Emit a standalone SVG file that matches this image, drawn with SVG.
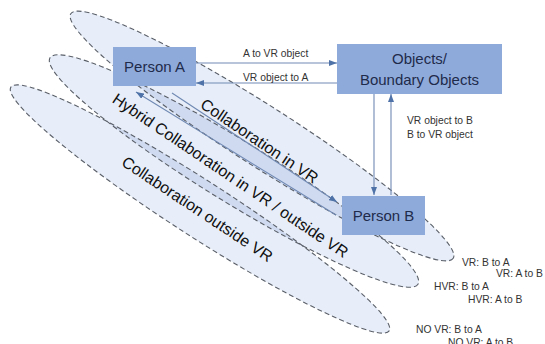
<svg xmlns="http://www.w3.org/2000/svg" width="545" height="344" viewBox="0 0 545 344">
<style>
.ell{fill:#e7eef9;stroke:none}
.ov{fill:#cfdaf0;stroke:none}
.out{fill:none;stroke:#5a5f68;stroke-width:1.1;stroke-dasharray:5 3}
.box{fill:#8eaadb}
.bt{font-family:"Liberation Sans",Arial,sans-serif;font-size:15px;fill:#1f2b4a;text-anchor:middle}
.lbl{font-family:"Liberation Sans",Arial,sans-serif;font-size:10.3px;fill:#333}
.rot{font-family:"Liberation Sans",Arial,sans-serif;font-size:16px;fill:#111;text-anchor:middle}
.con{stroke:#7089b3;stroke-width:1.1;fill:none}
</style>
<defs>
<marker id="ah" markerWidth="8" markerHeight="6" refX="8" refY="3" orient="auto" markerUnits="userSpaceOnUse">
<path d="M0,0 L8,3 L0,6 z" fill="#4f73a8"/>
</marker>
<ellipse id="e1s" cx="262" cy="136" rx="227" ry="30" transform="rotate(32.6 262 136)"/>
<ellipse id="e2s" cx="234" cy="171" rx="216" ry="31" transform="rotate(31.6 234 171)"/>
<ellipse id="e3s" cx="200" cy="209" rx="225" ry="28" transform="rotate(32.8 200 209)"/>
<clipPath id="c1"><use href="#e1s"/></clipPath>
<clipPath id="c2"><use href="#e2s"/></clipPath>
</defs>
<rect width="545" height="344" fill="#fff"/>
<g id="zones">
<use href="#e1s" class="ell"/>
<use href="#e2s" class="ell"/>
<use href="#e3s" class="ell"/>
<use href="#e2s" class="ov" clip-path="url(#c1)"/>
<use href="#e3s" class="ov" clip-path="url(#c2)"/>
<use href="#e1s" class="out"/>
<use href="#e2s" class="out"/>
<use href="#e3s" class="out"/>
<text class="rot" transform="translate(259.5 141) rotate(34)" dy="0.35em">Collaboration in VR</text>
<text class="rot" transform="translate(230.5 175.5) rotate(34)" dy="0.35em">Hybrid Collaboration in VR / outside VR</text>
<text class="rot" transform="translate(197.5 209) rotate(33.5)" dy="0.35em">Collaboration outside VR</text>
</g>
<g id="connectors">
<line class="con" x1="196" y1="63" x2="337" y2="63" marker-end="url(#ah)"/>
<line class="con" x1="337" y1="83" x2="196" y2="83" marker-end="url(#ah)"/>
<line class="con" x1="374" y1="94" x2="374" y2="195" marker-end="url(#ah)"/>
<line class="con" x1="391" y1="195" x2="391" y2="94" marker-end="url(#ah)"/>
<line class="con" x1="172" y1="93" x2="337" y2="202" marker-end="url(#ah)"/>
<line class="con" x1="336" y1="215" x2="136" y2="92" marker-end="url(#ah)"/>
<text class="lbl" x="243" y="57">A to VR object</text>
<text class="lbl" x="243" y="81">VR object  to A</text>
<text class="lbl" x="407" y="124">VR object to B</text>
<text class="lbl" x="407" y="138">B to VR object</text>
</g>
<g id="personA">
<rect class="box" x="113" y="47" width="83" height="39"/>
<text class="bt" x="154.5" y="72">Person A</text>
</g>
<g id="objects">
<rect class="box" x="337" y="44" width="165" height="50"/>
<text class="bt" x="419.5" y="64">Objects/</text>
<text class="bt" x="419.5" y="85">Boundary Objects</text>
</g>
<g id="personB">
<rect class="box" x="342" y="196" width="83" height="39"/>
<text class="bt" x="383.5" y="221">Person B</text>
</g>
<g id="legend">
<text class="lbl" x="462" y="266">VR: B to A</text>
<text class="lbl" x="496" y="277">VR: A to B</text>
<text class="lbl" x="434" y="290">HVR: B to A</text>
<text class="lbl" x="468" y="303">HVR: A to B</text>
<text class="lbl" x="416" y="333">NO VR: B to A</text>
<text class="lbl" x="448" y="346">NO VR: A to B</text>
</g>
</svg>
